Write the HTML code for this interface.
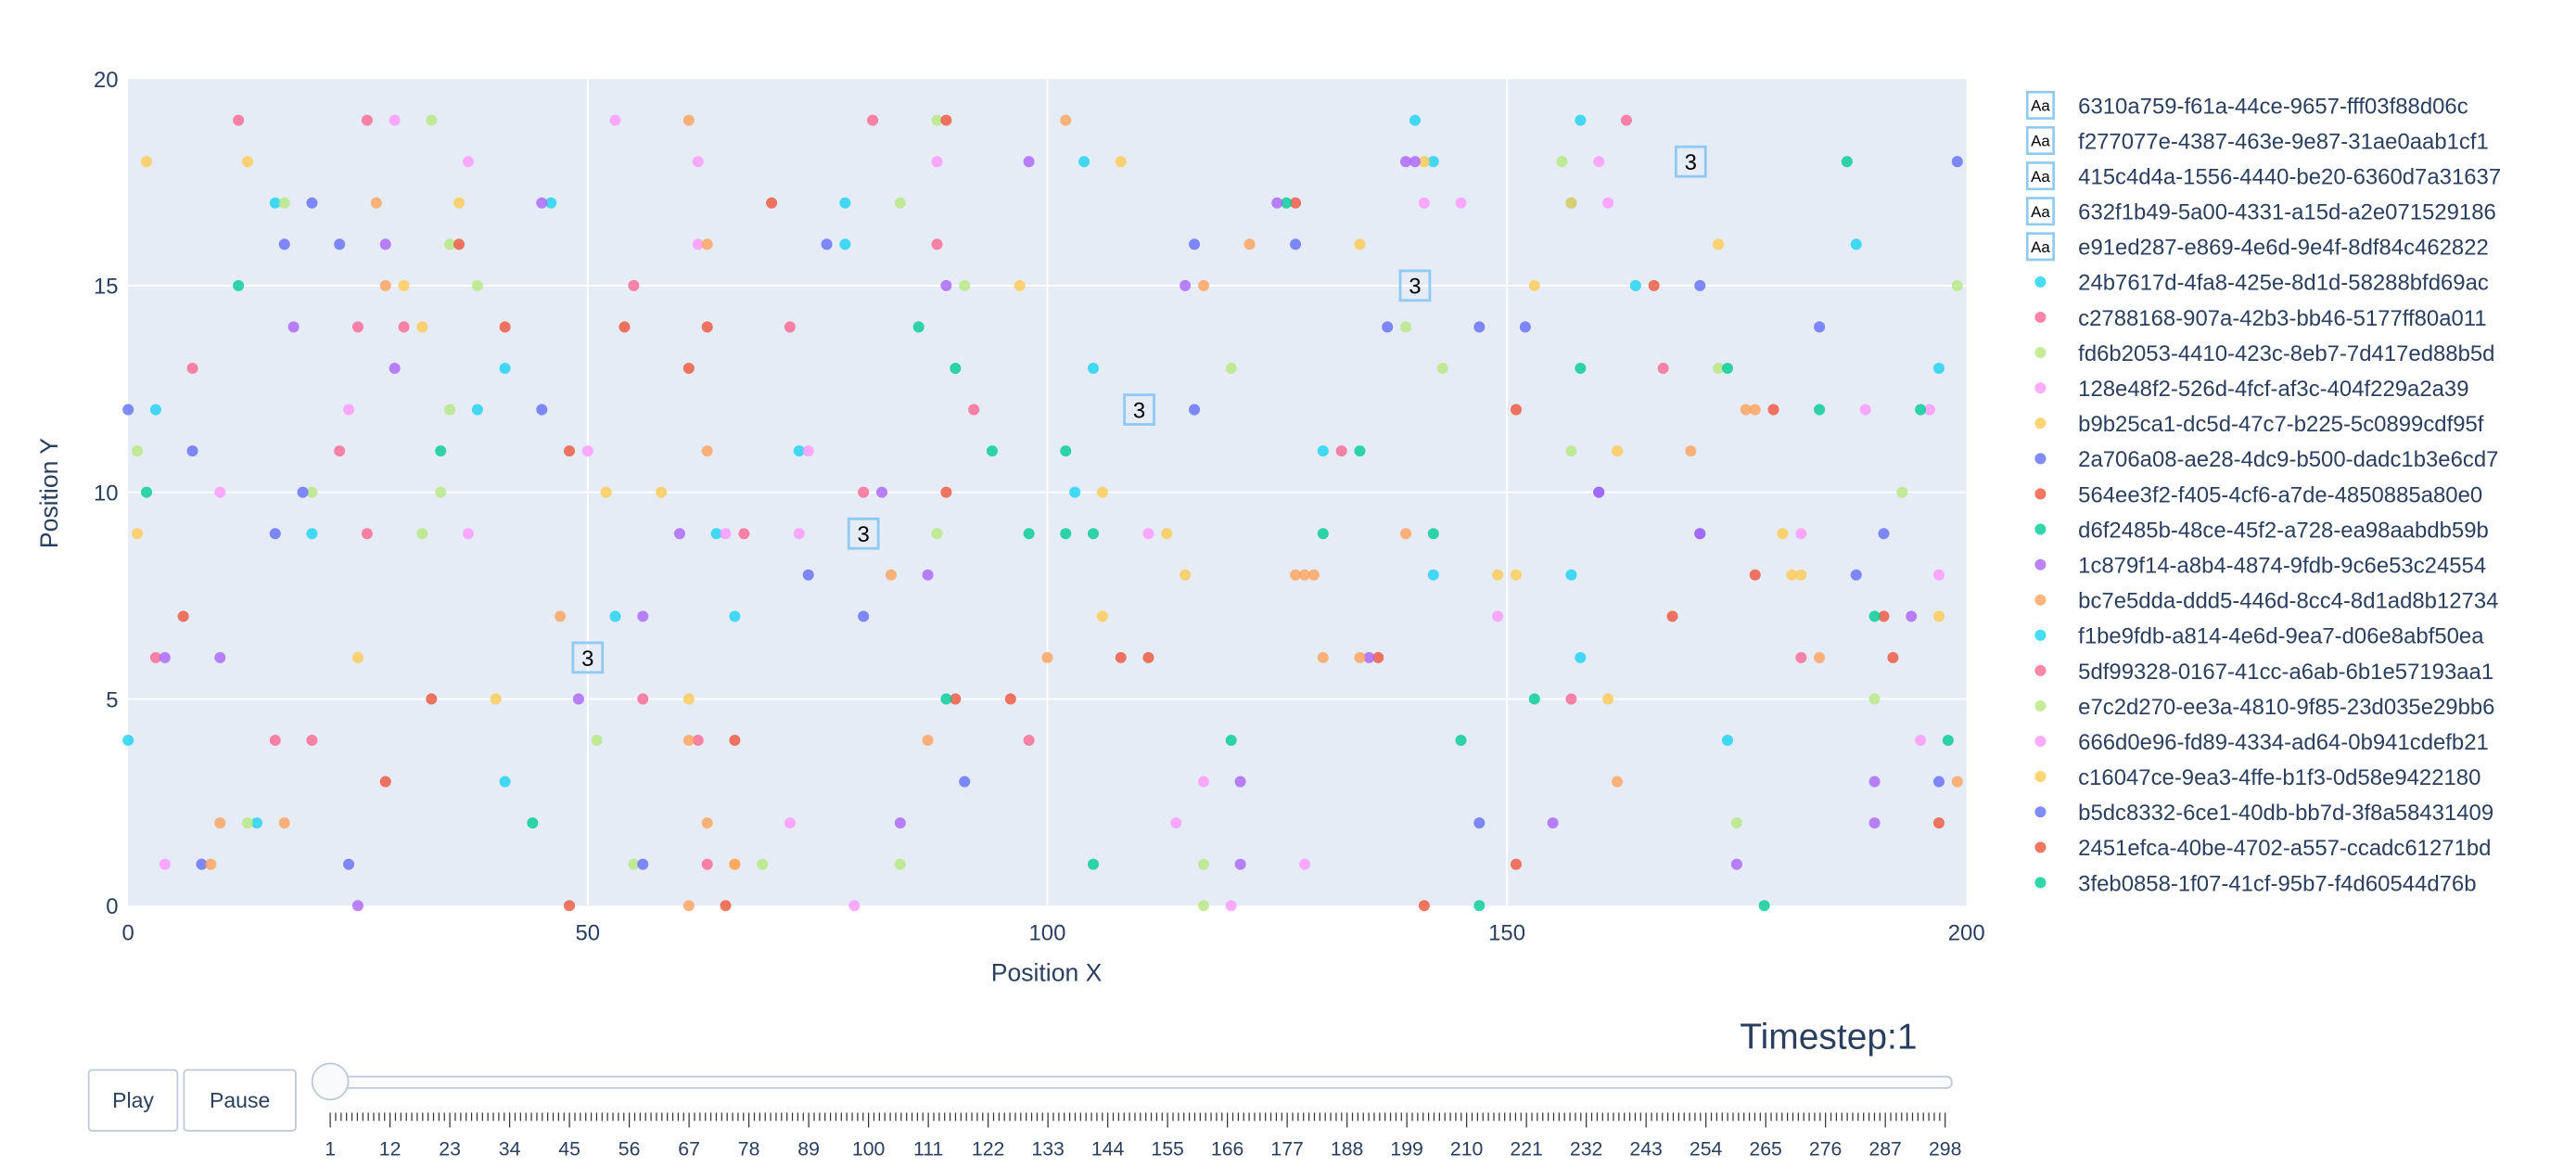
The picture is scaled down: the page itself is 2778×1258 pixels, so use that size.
<!DOCTYPE html>
<html><head><meta charset="utf-8">
<style>
html,body{margin:0;padding:0;background:#fff;}
svg{display:block;font-family:"Liberation Sans",sans-serif;}
</style></head>
<body>
<svg id="chart" width="2778" height="1258" viewBox="0 0 1568 710" xmlns="http://www.w3.org/2000/svg">
<rect x="78" y="48" width="1119" height="503" fill="#e5ecf6"/>
<g id="grid"></g>
<g id="marks"></g>
<g id="axes"></g>
<g id="legend"></g>
<g id="slider"></g>
</svg>
<script>
const seriesNames = ["24b7617d-4fa8-425e-8d1d-58288bfd69ac","c2788168-907a-42b3-bb46-5177ff80a011","fd6b2053-4410-423c-8eb7-7d417ed88b5d","128e48f2-526d-4fcf-af3c-404f229a2a39","b9b25ca1-dc5d-47c7-b225-5c0899cdf95f","2a706a08-ae28-4dc9-b500-dadc1b3e6cd7","564ee3f2-f405-4cf6-a7de-4850885a80e0","d6f2485b-48ce-45f2-a728-ea98aabdb59b","1c879f14-a8b4-4874-9fdb-9c6e53c24554","bc7e5dda-ddd5-446d-8cc4-8d1ad8b12734","f1be9fdb-a814-4e6d-9ea7-d06e8abf50ea","5df99328-0167-41cc-a6ab-6b1e57193aa1","e7c2d270-ee3a-4810-9f85-23d035e29bb6","666d0e96-fd89-4334-ad64-0b941cdefb21","c16047ce-9ea3-4ffe-b1f3-0d58e9422180","b5dc8332-6ce1-40db-bb7d-3f8a58431409","2451efca-40be-4702-a557-ccadc61271bd","3feb0858-1f07-41cf-95b7-f4d60544d76b"];
const textNames = ["6310a759-f61a-44ce-9657-fff03f88d06c","f277077e-4387-463e-9e87-31ae0aab1cf1","415c4d4a-1556-4440-be20-6360d7a31637","632f1b49-5a00-4331-a15d-a2e071529186","e91ed287-e869-4e6d-9e4f-8df84c462822"];
const textX = [170,140,110,80,50];
const textY = [18,15,12,9,6];
const textLabels = ["3","3","3","3","3"];
const seriesColors = ["#19d3f3","#FF6692","#B6E880","#FF97FF","#FECB52","#636efa","#EF553B","#00cc96","#ab63fa","#FFA15A"];
// points grouped by color group (first half of pairs → series i, alternates → series i+10)
const cyanPts = [[140,19],[158,19],[104,18],[142,18],[16,17],[46,17],[78,17],[157,17],[78,16],[188,16],[164,15],[41,13],[105,13],[197,13],[3,12],[38,12],[73,11],[130,11],[103,10],[20,9],[64,9],[142,8],[157,8],[53,7],[66,7],[158,6],[0,4],[174,4],[41,3],[14,2]];
const pinkPts = [[12,19],[26,19],[81,19],[163,19],[88,16],[55,15],[25,14],[30,14],[72,14],[167,13],[7,13],[23,11],[92,12],[132,11],[80,10],[26,9],[67,9],[56,5],[157,5],[16,4],[20,4],[62,4],[98,4],[3,6],[182,6],[63,1]];
const lgreenPts = [[33,19],[88,19],[156,18],[17,17],[84,17],[35,16],[38,15],[91,15],[199,15],[139,14],[120,13],[173,13],[143,13],[35,12],[1,11],[157,11],[20,10],[34,10],[193,10],[32,9],[88,9],[190,5],[51,4],[175,2],[13,2],[55,1],[69,1],[84,1],[117,1],[117,0]];
const magentaPts = [[29,19],[53,19],[37,18],[62,18],[88,18],[160,18],[141,17],[161,17],[62,16],[145,17],[24,12],[189,12],[196,12],[50,11],[74,11],[10,10],[37,9],[65,9],[73,9],[111,9],[182,9],[197,8],[149,7],[195,4],[117,3],[114,2],[72,2],[4,1],[128,1],[79,0],[120,0]];
const yellowPts = [[2,18],[13,18],[108,18],[141,18],[36,17],[157,17],[134,16],[173,16],[30,15],[97,15],[153,15],[32,14],[162,11],[1,9],[52,10],[58,10],[106,10],[113,9],[180,9],[115,8],[149,8],[151,8],[181,8],[182,8],[106,7],[197,7],[25,6],[40,5],[61,5],[161,5],[66,1]];
const bluePts = [[20,17],[17,16],[23,16],[76,16],[116,16],[127,16],[171,15],[137,14],[147,14],[152,14],[184,14],[0,12],[45,12],[116,12],[7,11],[19,10],[160,10],[16,9],[171,9],[191,9],[74,8],[188,8],[80,7],[91,3],[197,3],[147,2],[8,1],[24,1],[56,1],[199,18]];
const redPts = [[89,19],[70,17],[127,17],[36,16],[166,15],[41,14],[54,14],[63,14],[61,13],[151,12],[179,12],[48,11],[89,10],[6,7],[168,7],[177,8],[108,6],[111,6],[136,6],[192,6],[33,5],[66,4],[90,5],[96,5],[28,3],[151,1],[197,2],[48,0],[65,0],[141,0],[191,7]];
const greenPts = [[126,17],[187,18],[12,15],[86,14],[90,13],[158,13],[174,13],[34,11],[94,11],[102,11],[134,11],[184,12],[195,12],[2,10],[98,9],[102,9],[105,9],[130,9],[142,9],[190,7],[89,5],[153,5],[120,4],[145,4],[198,4],[44,2],[105,1],[147,0],[178,0]];
const purplePts = [[98,18],[139,18],[125,17],[45,17],[28,16],[89,15],[115,15],[18,14],[29,13],[160,10],[82,10],[60,9],[171,9],[87,8],[56,7],[194,7],[135,6],[4,6],[10,6],[49,5],[190,3],[121,3],[84,2],[155,2],[190,2],[175,1],[121,1],[25,0],[140,18]];
const orangePts = [[61,19],[102,19],[27,17],[28,15],[63,16],[117,15],[122,16],[176,12],[177,12],[170,11],[63,11],[83,8],[127,8],[128,8],[129,8],[139,9],[47,7],[100,6],[130,6],[134,6],[184,6],[61,4],[87,4],[162,3],[199,3],[10,2],[17,2],[63,2],[9,1],[66,1],[61,0]];
const colorGroups = [cyanPts,pinkPts,lgreenPts,magentaPts,yellowPts,bluePts,redPts,greenPts,purplePts,orangePts];
const xTicks = [0,50,100,150,200];
const yTicks = [0,5,10,15,20];
const sliderLabels = [1,12,23,34,45,56,67,78,89,100,111,122,133,144,155,166,177,188,199,210,221,232,243,254,265,276,287,298];

const NS="http://www.w3.org/2000/svg";
const X0=78,X1=1197,Y0=551,Y1=48;
const xs=v=>X0+(v-0)/200*(X1-X0);
const ys=v=>Y0-(v-0)/20*(Y0-Y1);
function mk(tag,attrs,parent,txt){const e=document.createElementNS(NS,tag);for(const k in attrs)e.setAttribute(k,attrs[k]);if(txt!==undefined)e.textContent=txt;parent.appendChild(e);return e;}
const grid=document.getElementById('grid'),marks=document.getElementById('marks'),axes=document.getElementById('axes'),legend=document.getElementById('legend'),slider=document.getElementById('slider');

xTicks.forEach(t=>{
  if(t>0&&t<200){const l=mk('line',{x1:xs(t),x2:xs(t),y1:Y1,y2:Y0,stroke:'#fff','stroke-width':1},grid);
  
  }
  const tx=mk('text',{x:xs(t),y:572,'text-anchor':'middle','font-size':13.5,fill:'#2a3f5f'},axes,String(t));
  
  
});
yTicks.forEach(t=>{
  if(t>0&&t<20){const l=mk('line',{x1:X0,x2:X1,y1:ys(t),y2:ys(t),stroke:'#fff','stroke-width':1},grid);
  
  }
  const tx=mk('text',{x:72,y:ys(t)+5,'text-anchor':'end','font-size':13.5,fill:'#2a3f5f'},axes,String(t));
  
  
});
let xt=mk('text',{x:637,y:597,'text-anchor':'middle','font-size':15,fill:'#2a3f5f'},axes,'Position X');


let yt=mk('text',{x:0,y:0,'text-anchor':'middle','font-size':15,fill:'#2a3f5f',transform:'translate(35,300) rotate(-90)'},axes,'Position Y');



// scatter points
colorGroups.forEach((pts,gi)=>{
  pts.forEach((p,pi)=>{
    const c=mk('circle',{cx:xs(p[0]),cy:ys(p[1]),r:3.4,fill:seriesColors[gi],'fill-opacity':0.8},marks);
    const sIdx=(gi<8&&pi%2===1)?gi+10:gi;
    
    
  });
});
// text markers
textX.forEach((v,i)=>{
  const g=mk('g',{},marks);
  
  
  mk('rect',{x:xs(v)-9,y:ys(textY[i])-9,width:18,height:18,fill:'none',stroke:'#8fcaf2','stroke-width':1.6},g);
  mk('text',{x:xs(v),y:ys(textY[i])+5,'text-anchor':'middle','font-size':13.5,fill:'#000'},g,textLabels[i]);
});

// legend
const allNames=textNames.concat(seriesNames);
allNames.forEach((n,i)=>{
  const y=64+i*21.5;
  const g=mk('g',{},legend);
  
  
  if(i<5){
    mk('rect',{x:1234,y:y-8,width:16,height:16,fill:'none',stroke:'#8fcaf2','stroke-width':1.5},g);
    mk('text',{x:1242,y:y+3.5,'text-anchor':'middle','font-size':9.5,fill:'#000'},g,'Aa');
  } else {
    const si=i-5;
    mk('circle',{cx:1242,cy:y,r:3.4,fill:seriesColors[si%10],'fill-opacity':0.8},g);
  }
  mk('text',{x:1265,y:y+5,'font-size':13.5,fill:'#2a3f5f'},g,n);
});

// slider
let st=mk('text',{x:1167,y:638,'text-anchor':'end','font-size':22,fill:'#2a3f5f'},slider,'Timestep:1');


const bPlay=mk('g',{},slider);


mk('rect',{x:54,y:651,width:54,height:37,rx:2,fill:'#fff',stroke:'#bec8d9','stroke-width':1},bPlay);
mk('text',{x:81,y:674,'text-anchor':'middle','font-size':13,fill:'#2a3f5f'},bPlay,'Play');
const bPause=mk('g',{},slider);


mk('rect',{x:112,y:651,width:68,height:37,rx:2,fill:'#fff',stroke:'#bec8d9','stroke-width':1},bPause);
mk('text',{x:146,y:674,'text-anchor':'middle','font-size':13,fill:'#2a3f5f'},bPause,'Pause');
const rail=mk('rect',{x:200,y:655,width:988,height:7,rx:3,fill:'#f8fafc',stroke:'#bec8d9','stroke-width':1},slider);


const S0=201,S1=1184;
const sx=v=>S0+(v-1)/(298-1)*(S1-S0);
for(let s=1;s<=298;s++){
  const major=sliderLabels.indexOf(s)>=0;
  const l=mk('line',{x1:sx(s),x2:sx(s),y1:677,y2:major?686:682,stroke:'#333','stroke-width':0.7},slider);
  
  
}
sliderLabels.forEach(v=>{
  const t=mk('text',{x:sx(v),y:703,'text-anchor':'middle','font-size':12,fill:'#2a3f5f'},slider,String(v));
  
  
});
const knob=mk('circle',{cx:201,cy:658,r:11,fill:'#f8fafc',stroke:'#bec8d9','stroke-width':1},slider);


</script>
</body></html>
